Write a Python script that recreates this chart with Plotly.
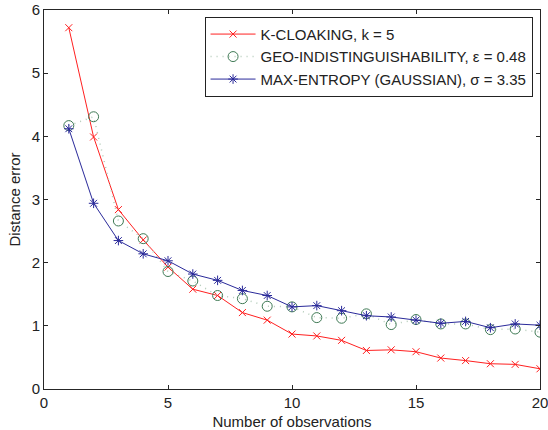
import plotly.graph_objects as go

obs = list(range(1, 21))
k_cloaking = [5.72, 3.99, 2.84, 2.36, 1.93, 1.58, 1.48, 1.21, 1.09, 0.87,
              0.84, 0.77, 0.61, 0.62, 0.59, 0.49, 0.45, 0.40, 0.39, 0.32]
geo_ind = [4.17, 4.31, 2.66, 2.38, 1.86, 1.71, 1.48, 1.43, 1.31, 1.30,
           1.13, 1.12, 1.19, 1.02, 1.10, 1.03, 1.03, 0.94, 0.95, 0.90]
max_ent = [4.12, 2.94, 2.35, 2.14, 2.03, 1.82, 1.72, 1.56, 1.48, 1.30,
           1.32, 1.24, 1.16, 1.14, 1.09, 1.04, 1.07, 0.97, 1.03, 1.01]

names = ["K-CLOAKING, k = 5",
         "GEO-INDISTINGUISHABILITY, \u03b5 = 0.48",
         "MAX-ENTROPY (GAUSSIAN), \u03c3 = 3.35"]
x_ticks = [0, 5, 10, 15, 20]
y_ticks = [0, 1, 2, 3, 4, 5, 6]

fig = go.Figure()
fig.add_trace(go.Scatter(x=obs, y=k_cloaking, name=names[0], mode="lines+markers",
                         line=dict(color="#ff2020", width=1),
                         marker=dict(symbol="x-thin-open", size=7, color="#ff2020",
                                     line=dict(width=1, color="#ff2020"))))
fig.add_trace(go.Scatter(x=obs, y=geo_ind, name=names[1], mode="lines+markers",
                         line=dict(color="#b3cbb9", width=1.5, dash="1px,5px"),
                         marker=dict(symbol="circle-open", size=10, color="#3f7a55",
                                     line=dict(width=1, color="#3f7a55"))))
fig.add_trace(go.Scatter(x=obs, y=max_ent, name=names[2], mode="lines+markers",
                         line=dict(color="#2a2a9a", width=1),
                         marker=dict(symbol="asterisk-open", size=8, color="#2a2a9a",
                                     line=dict(width=1, color="#2a2a9a"))))

axis_common = dict(showline=True, linecolor="#262626", linewidth=1, mirror="ticks",
                   ticks="inside", ticklen=4, tickcolor="#262626", showgrid=False,
                   zeroline=False, automargin=False, ticklabeloverflow="allow",
                   tickfont=dict(size=15, color="#222222"))
fig.update_layout(
    width=548, height=430,
    margin=dict(l=44, r=8, t=10, b=41),
    paper_bgcolor="white", plot_bgcolor="white",
    font=dict(family="Liberation Sans, Arial, Helvetica, sans-serif", size=15, color="#222222"),
    xaxis=dict(range=[0, 20], tickvals=x_ticks,
               title=dict(text="Number of observations", standoff=6, font=dict(size=15)),
               **axis_common),
    yaxis=dict(range=[0, 6], tickvals=y_ticks,
               title=dict(text="Distance error", standoff=7, font=dict(size=15)),
               **axis_common),
    legend=dict(x=0.985, y=0.982, xanchor="right", yanchor="top",
                bgcolor="white", bordercolor="#222222", borderwidth=1,
                font=dict(size=15), tracegroupgap=0, itemsizing="trace",
                itemwidth=45),
    showlegend=True,
)
fig.write_html("out.html", config={"displayModeBar": False},
               post_script="document.body.style.margin='0';document.body.style.overflow='hidden';")
